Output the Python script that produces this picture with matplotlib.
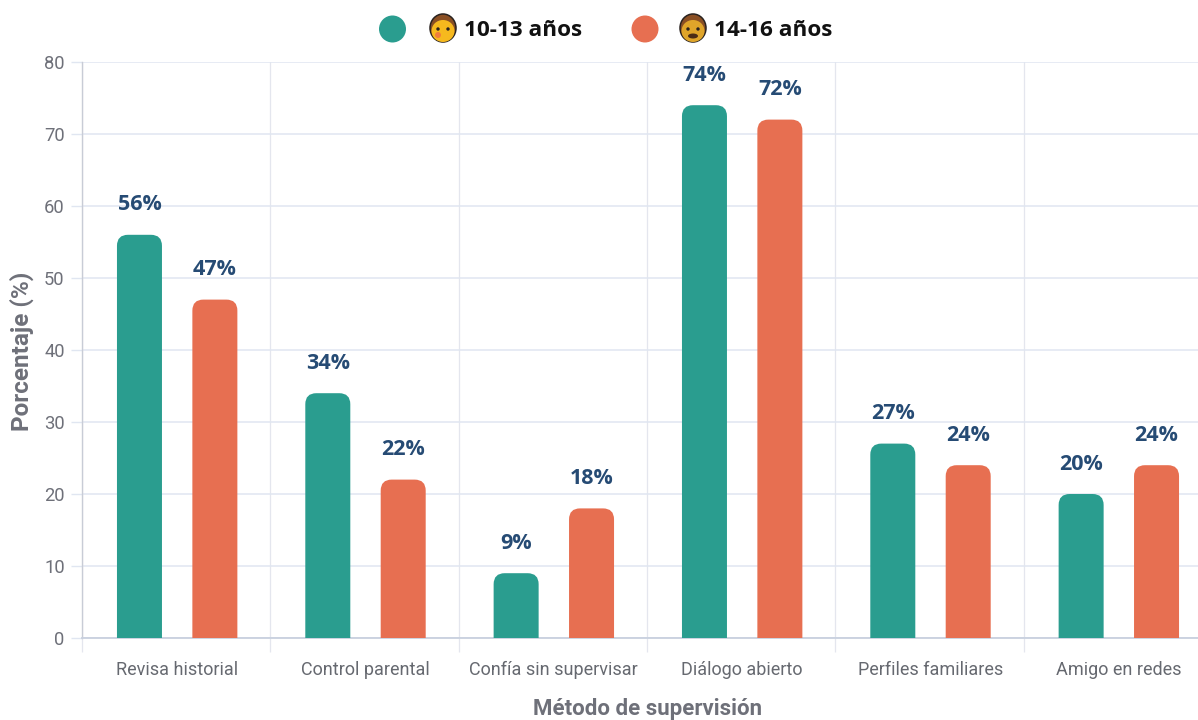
import matplotlib
matplotlib.use('Agg')
import matplotlib.pyplot as plt
import numpy as np
from matplotlib.patches import Circle, Ellipse, PathPatch
from matplotlib.path import Path
from matplotlib.transforms import Affine2D

metodos = ['Revisa historial', 'Control parental', 'Confía sin supervisar',
           'Diálogo abierto', 'Perfiles familiares', 'Amigo en redes']
edad_10_13 = [56, 34, 9, 74, 27, 20]
edad_14_16 = [47, 22, 18, 72, 24, 24]
yticks = [0, 10, 20, 30, 40, 50, 60, 70, 80]

TEAL = '#2a9d8f'
CORAL = '#e76f51'
NAVY = '#264b74'
W, H = 1198, 720
DPI = 100
# plot area in pixels, it runs a little past the right edge of the figure
LEFT, RIGHT, TOP, BOTTOM = 82, 1212, 62, 638


def rounded_bar(ax, x, width, height, color, rx, ry):
    l, r = x - width / 2, x + width / 2
    verts = [(l, 0), (l, height - ry), (l, height), (l + rx, height),
             (r - rx, height), (r, height), (r, height - ry), (r, 0), (l, 0)]
    codes = [Path.MOVETO, Path.LINETO, Path.CURVE3, Path.CURVE3,
             Path.LINETO, Path.CURVE3, Path.CURVE3, Path.LINETO, Path.CLOSEPOLY]
    ax.add_patch(PathPatch(Path(verts, codes), facecolor=color, edgecolor='none', zorder=3))


def face(fig, px, cx, cy, beard=False):
    # small heads next to the legend labels, drawn in pixel coordinates
    skin = '#f6b91e' if not beard else '#dfa52a'
    ink = '#2a2320'
    # hair is the full head shape, the skin sits lower on top of it
    fig.add_artist(Ellipse((cx, cy), 26, 28, facecolor='#8a4f24', edgecolor=ink, lw=1.1, transform=px))
    fig.add_artist(Ellipse((cx, cy + 3), 23, 22, facecolor=skin, edgecolor='none', transform=px))
    for dx in (-5, 5):
        fig.add_artist(Circle((cx + dx, cy + 1), 1.7, facecolor=ink, edgecolor='none', transform=px))
    if beard:
        fig.add_artist(Ellipse((cx, cy + 8), 10, 5, facecolor='#4a2c16', edgecolor='none', transform=px))
    else:
        fig.add_artist(Circle((cx - 5, cy + 7), 3, facecolor='#ef7d3c', edgecolor='none', transform=px))


fig = plt.figure(figsize=(W / DPI, H / DPI), dpi=DPI, facecolor='white')
ax = fig.add_axes([LEFT / W, 1 - BOTTOM / H, (RIGHT - LEFT) / W, (BOTTOM - TOP) / H])

n = len(metodos)
x = np.arange(n)
cat_px = (RIGHT - LEFT) / n
ax.set_xlim(-0.5, n - 0.5)
ax.set_ylim(0, 80)

bar_w = 45 / cat_px
offset = 37.7 / cat_px
nudge = 1 / cat_px
rx, ry = 11 / cat_px, 11 / 7.2
for i in x:
    for dx, vals, col in ((-offset, edad_10_13, TEAL), (offset, edad_14_16, CORAL)):
        rounded_bar(ax, i + dx + nudge, bar_w, vals[i], col, rx, ry)
        ax.annotate(f'{vals[i]}%', (i + dx + nudge, vals[i]), xytext=(0, 21.5), textcoords='offset points',
                    ha='center', va='center', fontsize=15.5, fontweight='bold', family='Open Sans',
                    color=NAVY, zorder=4, annotation_clip=False)

# y grid at the ticks, x grid on the boundaries between categories
ax.set_yticks(yticks)
ax.set_xticks(np.arange(n + 1) - 0.5)
ax.set_xticklabels([])
ax.grid(True, axis='y', color='#e0e6f1', lw=1.1, zorder=0)
ax.grid(True, axis='x', color='#e4e6ee', lw=0.9, zorder=0)
ax.set_axisbelow(True)
for s in ('top', 'right'):
    ax.spines[s].set_visible(False)
ax.spines['left'].set_color('#c8ccd6')
ax.spines['bottom'].set_color('#c8d0de')
ax.spines['left'].set_linewidth(1)
ax.spines['bottom'].set_linewidth(1.3)
ax.tick_params(axis='y', length=8, width=1, color='#e0e6f1', pad=4.5, labelsize=13.2, labelcolor='#6e7079')
ax.tick_params(axis='x', length=10, width=0.9, color='#e4e6ee')
for lab in ax.get_yticklabels():
    lab.set_family('Roboto')

for i, m in enumerate(metodos):
    ax.annotate(m, (i + nudge, 0), xytext=(0, -23), textcoords='offset points', ha='center', va='center',
                fontsize=13, family='Roboto', color='#666970', annotation_clip=False)

fig.text(648 / W, 1 - 709 / H, 'Método de supervisión', ha='center', va='center', fontsize=16,
         fontweight='bold', family='Roboto', color='#6e7079')
fig.text(22 / W, 1 - 351 / H, 'Porcentaje (%)', ha='center', va='center', rotation=90, fontsize=17.5,
         fontweight='bold', family='Roboto', color='#6e7079')

# legend row
px = Affine2D().scale(1 / W, -1 / H).translate(0, 1) + fig.transFigure
fig.add_artist(Circle((392.5, 29), 13.5, facecolor=TEAL, edgecolor='none', transform=px))
fig.add_artist(Circle((645, 29), 13.5, facecolor=CORAL, edgecolor='none', transform=px))
face(fig, px, 443, 28)
face(fig, px, 693, 28, beard=True)
fig.text(464 / W, 1 - 30 / H, '10-13 años', ha='left', va='center', fontsize=16.2, fontweight='bold',
         family='Open Sans', color='#111111')
fig.text(714 / W, 1 - 30 / H, '14-16 años', ha='left', va='center', fontsize=16.2, fontweight='bold',
         family='Open Sans', color='#111111')

fig.savefig('out.png', dpi=DPI)
